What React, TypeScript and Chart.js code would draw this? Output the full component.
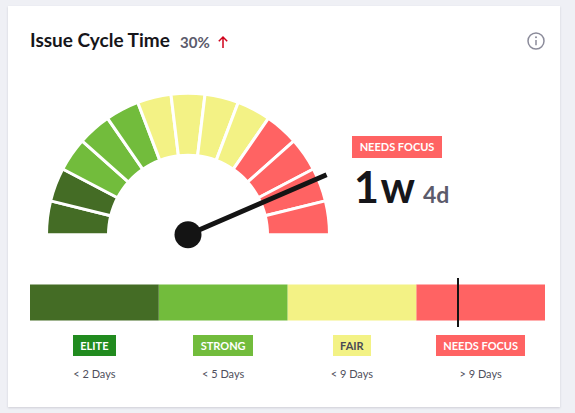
import React, { useEffect, useRef } from "react";
import { Chart, registerables } from "chart.js";

Chart.register(...registerables);

const bandNames = ["ELITE", "STRONG", "FAIR", "NEEDS FOCUS"];
const bandRanges = ["< 2 Days", "< 5 Days", "< 9 Days", "> 9 Days"];
const bandColors = ["#446c25", "#72bc3c", "#f3f285", "#ff6363"];
const badgeColors = ["#218b1f", "#72bc3c", "#f3f285", "#ff6363"];
const badgeText = ["#ffffff", "#ffffff", "#4a4a55", "#ffffff"];
const badgeWidths = [43, 60, 38, 89];
const gaugeSegmentCounts = [2, 3, 4, 4];
const barValues = [1, 1, 1, 1];
const gaugeValue = 11.31;
const barMarkerValue = 3.326;

const FONT = "Lato, 'Noto Sans', sans-serif";

const gaugeColors: string[] = [];
gaugeSegmentCounts.forEach((n, i) => {
  for (let k = 0; k < n; k++) gaugeColors.push(bandColors[i]);
});
const gaugeData = gaugeColors.map(() => 1);

const abs = (s: React.CSSProperties): React.CSSProperties => ({ position: "absolute", ...s });

export default function App() {
  const gaugeRef = useRef<HTMLCanvasElement>(null);
  const barRef = useRef<HTMLCanvasElement>(null);

  useEffect(() => {
    const needle = {
      id: "needle",
      afterDatasetsDraw(chart: any) {
        const arc = chart.getDatasetMeta(0).data[0];
        const { ctx } = chart;
        const a = Math.PI + (gaugeValue / gaugeData.length) * Math.PI;
        const len = 151;
        ctx.save();
        ctx.strokeStyle = "#141414";
        ctx.lineWidth = 5;
        ctx.beginPath();
        ctx.moveTo(arc.x, arc.y);
        ctx.lineTo(arc.x + Math.cos(a) * len, arc.y + Math.sin(a) * len);
        ctx.stroke();
        ctx.fillStyle = "#141414";
        ctx.beginPath();
        ctx.arc(arc.x, arc.y, 13.5, 0, Math.PI * 2);
        ctx.fill();
        ctx.restore();
      },
    };
    const gauge = new Chart(gaugeRef.current!, {
      type: "doughnut",
      data: {
        labels: gaugeColors.map((_, i) => String(i)),
        datasets: [
          {
            data: gaugeData,
            backgroundColor: gaugeColors,
            borderColor: "#ffffff",
            borderWidth: 3,
          } as any,
        ],
      },
      options: {
        animation: false,
        responsive: false,
        rotation: -90,
        circumference: 180,
        radius: 141.5,
        cutout: "56.2%",
        layout: { padding: { bottom: 20 } },
        plugins: { legend: { display: false }, tooltip: { enabled: false } },
      } as any,
      plugins: [needle],
    });

    const marker = {
      id: "marker",
      afterDatasetsDraw(chart: any) {
        const x = Math.round(chart.scales.x.getPixelForValue(barMarkerValue));
        const { ctx } = chart;
        ctx.save();
        ctx.fillStyle = "#141414";
        ctx.fillRect(x - 1, 0, 2, chart.height);
        ctx.restore();
      },
    };
    const bar = new Chart(barRef.current!, {
      type: "bar",
      data: {
        labels: ["cycle"],
        datasets: bandNames.map((name, i) => ({
          label: name,
          data: [barValues[i]],
          backgroundColor: bandColors[i],
          borderWidth: 0,
          barPercentage: 1,
          categoryPercentage: 36 / 49,
        })),
      },
      options: {
        animation: false,
        responsive: false,
        indexAxis: "y",
        layout: { padding: 0 },
        scales: {
          x: { stacked: true, display: false, min: 0, max: 4 },
          y: { stacked: true, display: false },
        },
        plugins: { legend: { display: false }, tooltip: { enabled: false } },
      },
      plugins: [marker],
    });
    return () => {
      gauge.destroy();
      bar.destroy();
    };
  }, []);

  return (
    <div style={abs({ left: 0, top: 0, width: 575, height: 413, background: "#eff0f5", overflow: "hidden", fontFamily: FONT })}>
      <div style={abs({ left: 8, top: 6, width: 552, height: 401, background: "#fff", boxShadow: "0 1px 2px rgba(60,60,80,0.18)" })} />
      <div style={abs({ left: 30, top: 28, fontSize: 19, fontWeight: 700, color: "#16161a", lineHeight: "24px", whiteSpace: "nowrap" })}>
        Issue Cycle Time
      </div>
      <div style={abs({ left: 180, top: 32, fontSize: 15, fontWeight: 700, color: "#5b5b6b", lineHeight: "20px", whiteSpace: "nowrap" })}>
        30%
      </div>
      <svg style={abs({ left: 216, top: 34 })} width="14" height="16" viewBox="0 0 14 16">
        <path d="M7 14V3M2.8 7.2 7 3l4.2 4.2" fill="none" stroke="#d0021b" strokeWidth="1.5" />
      </svg>
      <svg style={abs({ left: 526, top: 31 })} width="20" height="20" viewBox="0 0 20 20">
        <circle cx="10" cy="10" r="8" fill="none" stroke="#8b8b9a" strokeWidth="1.5" />
        <path d="M10 9v5.2" stroke="#8b8b9a" strokeWidth="1.5" />
        <circle cx="10" cy="6.3" r="1" fill="#8b8b9a" />
      </svg>

      <canvas ref={gaugeRef} width={284} height={162} style={abs({ left: 45.5, top: 93, width: 284, height: 162 })} />

      <div style={abs({ left: 352, top: 136, width: 90, height: 22, background: "#ff6363", color: "#fff", fontSize: 11, fontWeight: 700, lineHeight: "22px", textAlign: "center", whiteSpace: "nowrap" })}>
        NEEDS FOCUS
      </div>
      <div style={abs({ left: 354, top: 162, fontSize: 43, fontWeight: 700, color: "#16161a", lineHeight: "50px", letterSpacing: 1.5, whiteSpace: "nowrap" })}>
        1w
      </div>
      <div style={abs({ left: 423, top: 180, fontSize: 23, fontWeight: 700, color: "#5b5b6b", lineHeight: "28px", whiteSpace: "nowrap" })}>
        4d
      </div>

      <canvas ref={barRef} width={515} height={49} style={abs({ left: 30, top: 277.5, width: 515, height: 49 })} />

      {bandNames.map((name, i) => {
        const cx = 94.4 + i * 128.75;
        return (
          <React.Fragment key={name}>
            <div style={abs({ left: cx - badgeWidths[i] / 2, top: 335, width: badgeWidths[i], height: 21, background: badgeColors[i], color: badgeText[i], fontSize: 11, fontWeight: 700, lineHeight: "21px", textAlign: "center", whiteSpace: "nowrap" })}>
              {name}
            </div>
            <div style={abs({ left: cx - 50, top: 366, width: 100, fontSize: 11, color: "#4f4f5c", lineHeight: "16px", textAlign: "center", whiteSpace: "nowrap" })}>
              {bandRanges[i]}
            </div>
          </React.Fragment>
        );
      })}
    </div>
  );
}
